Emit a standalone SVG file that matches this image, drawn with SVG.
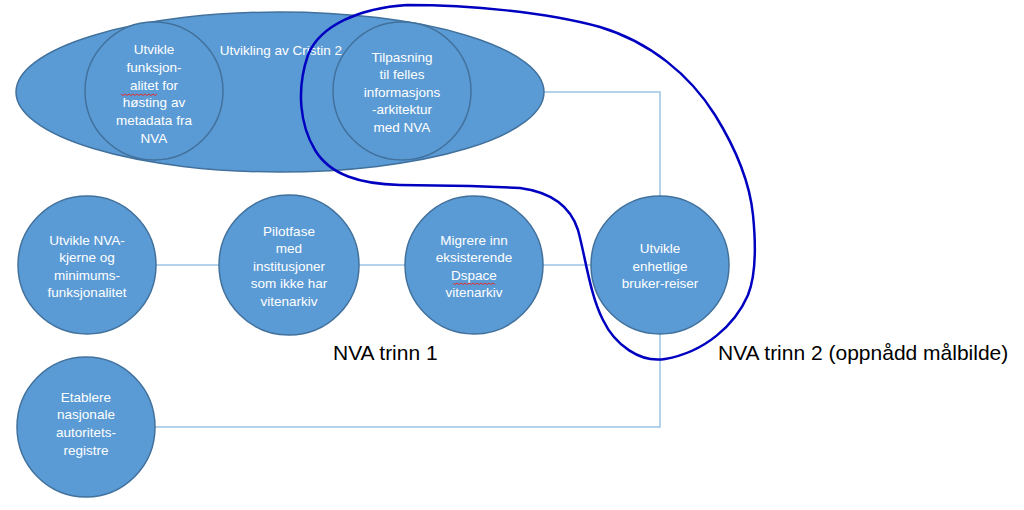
<svg xmlns="http://www.w3.org/2000/svg" width="1024" height="510" viewBox="0 0 1024 510">
<defs>
<style>
.node{fill:#5b9bd5;stroke:#41719c;stroke-width:1.5}
.t{font-family:"Liberation Sans",Arial,sans-serif;font-size:13.5px;fill:#ffffff;text-anchor:middle}
.lbl{font-family:"Liberation Sans",Arial,sans-serif;font-size:21px;fill:#000000}
.conn{fill:none;stroke:#9dc3e6;stroke-width:1.5}
.loop{fill:none;stroke:#0000c0;stroke-width:2.5}
.sq{fill:none;stroke:#e03030;stroke-width:1}
</style>
</defs>
<rect width="1024" height="510" fill="#ffffff"/>
<g id="connectors">
<polyline class="conn" points="544,92 660,92 660,196"/>
<line class="conn" x1="156" y1="265" x2="219" y2="265"/>
<line class="conn" x1="359" y1="265" x2="405" y2="265"/>
<line class="conn" x1="543" y1="265" x2="591" y2="265"/>
<polyline class="conn" points="660,334 660,427 155,427"/>
</g>
<g id="cristin2">
<ellipse class="node" cx="280" cy="92" rx="264" ry="80"/>
<text class="t" x="281" y="55">Utvikling av Cristin 2</text>
</g>
<g id="node-hosting">
<circle class="node" cx="154" cy="91" r="69"/>
<text class="t"><tspan x="154" y="54">Utvikle</tspan><tspan x="154" y="72">funksjon-</tspan><tspan x="154" y="90">alitet for</tspan><tspan x="154" y="107">høsting av</tspan><tspan x="154" y="125">metadata fra</tspan><tspan x="154" y="143">NVA</tspan></text>
<path class="sq" d="M121,94 l2,1.5 l2,-1.5 l2,1.5 l2,-1.5 l2,1.5 l2,-1.5 l2,1.5 l2,-1.5 l2,1.5 l2,-1.5 l2,1.5 l2,-1.5 l2,1.5 l2,-1.5 l2,1.5 l2,-1.5 l2,1.5 l2,-1.5"/>
</g>
<g id="node-tilpasning">
<circle class="node" cx="402" cy="91" r="69"/>
<text class="t"><tspan x="402" y="62">Tilpasning</tspan><tspan x="402" y="79">til felles</tspan><tspan x="402" y="97">informasjons</tspan><tspan x="402" y="114">-arkitektur</tspan><tspan x="402" y="132">med NVA</tspan></text>
</g>
<g id="node-nva-kjerne">
<circle class="node" cx="87" cy="265" r="69"/>
<text class="t"><tspan x="87" y="245">Utvikle NVA-</tspan><tspan x="87" y="262">kjerne og</tspan><tspan x="87" y="280">minimums-</tspan><tspan x="87" y="297">funksjonalitet</tspan></text>
</g>
<g id="node-pilot">
<circle class="node" cx="289" cy="265" r="70"/>
<text class="t"><tspan x="289" y="236">Pilotfase</tspan><tspan x="289" y="253">med</tspan><tspan x="289" y="271">institusjoner</tspan><tspan x="289" y="288">som ikke har</tspan><tspan x="289" y="306">vitenarkiv</tspan></text>
</g>
<g id="node-migrere">
<circle class="node" cx="474" cy="265" r="69"/>
<text class="t"><tspan x="474" y="245">Migrere inn</tspan><tspan x="474" y="262">eksisterende</tspan><tspan x="474" y="280">Dspace</tspan><tspan x="474" y="297">vitenarkiv</tspan></text>
<path class="sq" d="M453,283 l2,1.5 l2,-1.5 l2,1.5 l2,-1.5 l2,1.5 l2,-1.5 l2,1.5 l2,-1.5 l2,1.5 l2,-1.5 l2,1.5 l2,-1.5 l2,1.5 l2,-1.5 l2,1.5 l2,-1.5 l2,1.5 l2,-1.5 l2,1.5 l2,-1.5 l2,1.5"/>
</g>
<g id="node-brukerreiser">
<circle class="node" cx="660" cy="265" r="69"/>
<text class="t"><tspan x="660" y="253">Utvikle</tspan><tspan x="660" y="271">enhetlige</tspan><tspan x="660" y="288">bruker-reiser</tspan></text>
</g>
<g id="node-autoritet">
<ellipse class="node" cx="86" cy="427" rx="69" ry="70"/>
<text class="t"><tspan x="86" y="402">Etablere</tspan><tspan x="86" y="419">nasjonale</tspan><tspan x="86" y="437">autoritets-</tspan><tspan x="86" y="455">registre</tspan></text>
</g>
<g id="labels">
<text class="lbl" x="333" y="360">NVA trinn 1</text>
<text class="lbl" x="718" y="360">NVA trinn 2 (oppnådd målbilde)</text>
</g>
<g id="highlight">
<path class="loop" d="M407,5 C470,5 545,12 600,27 C650,42 690,75 715,115 C738,152 750,185 753,215 C756,245 756,275 748,295 C735,325 705,352 665,359 C640,363 615,345 603,320 C590,295 585,255 578,230 C570,205 550,192 520,188 L470,186 L400,185 C360,184 330,175 315,150 C300,125 296,90 308,55 C320,25 360,8 407,5 Z"/>
</g>
</svg>
